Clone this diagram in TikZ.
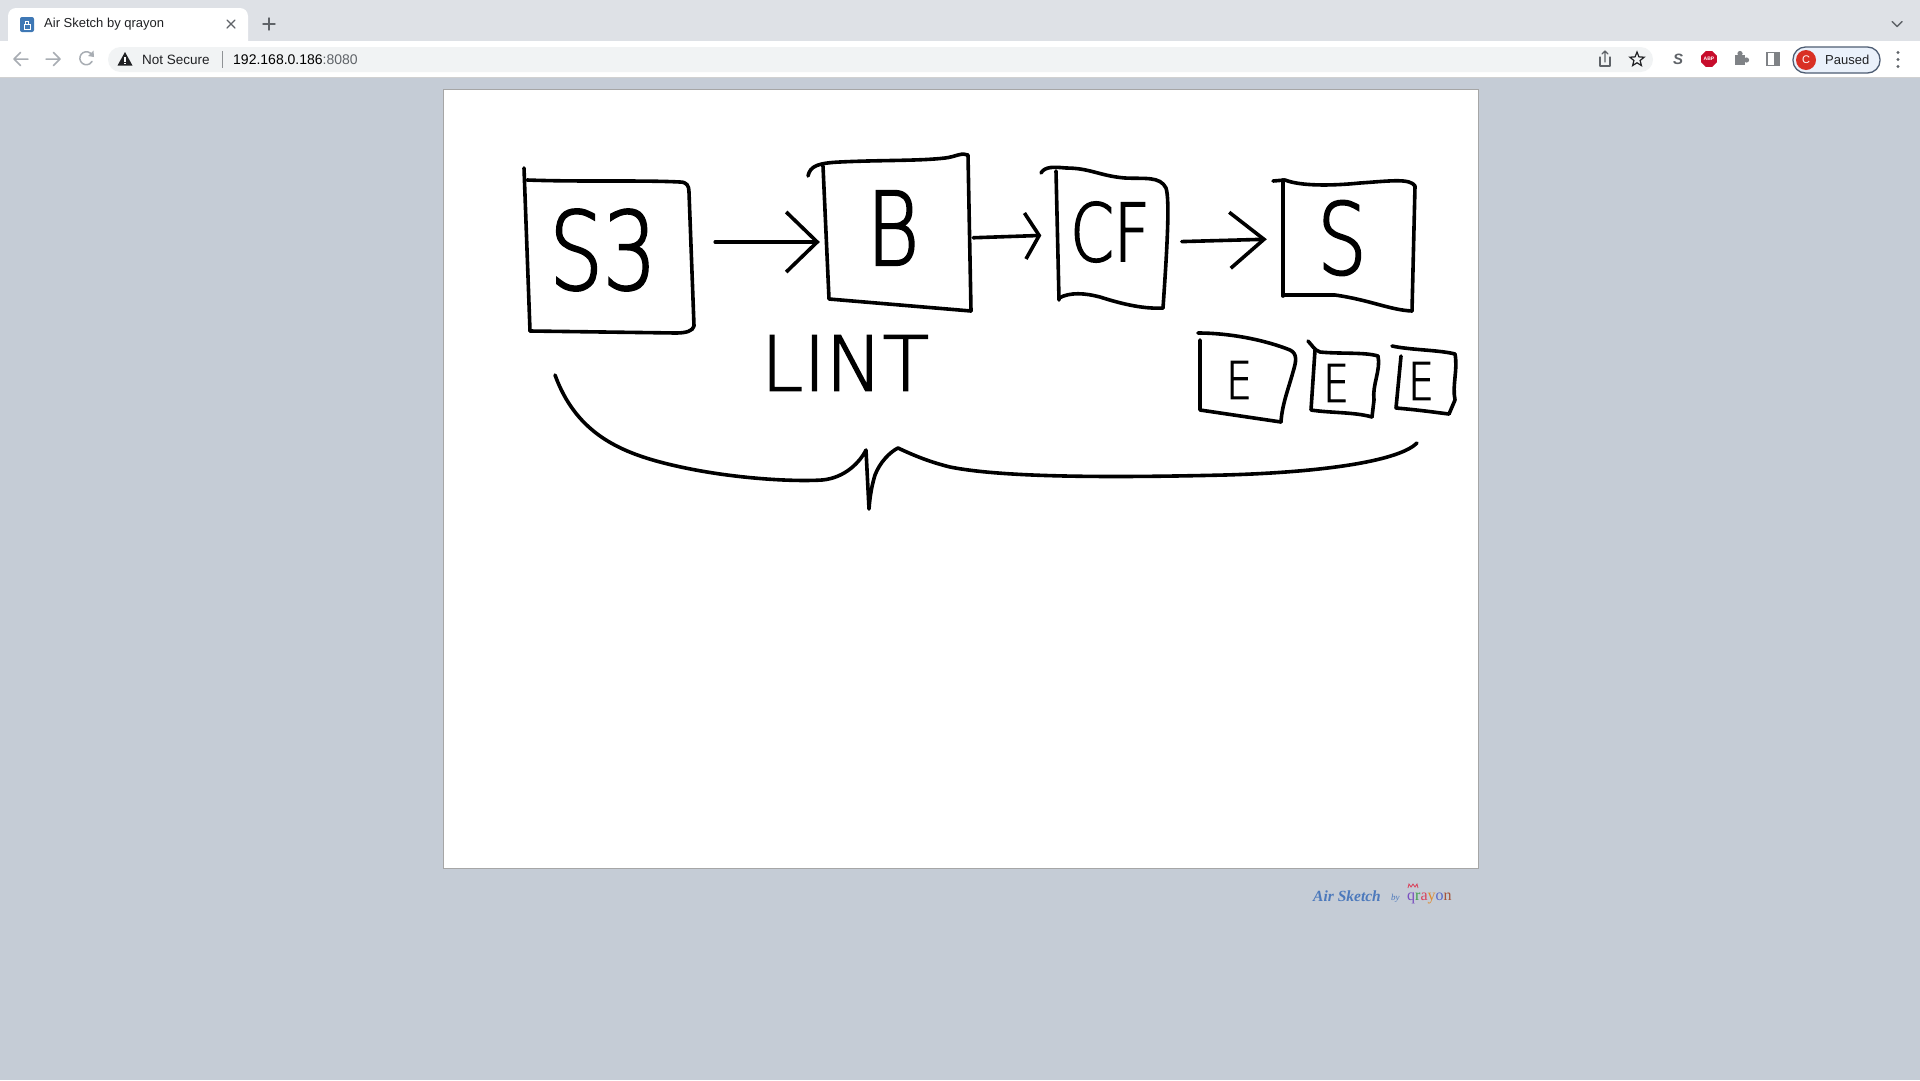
\documentclass[tikz,border=0pt]{standalone}
\usepackage{fontspec}
\setmainfont{Liberation Sans}
\newfontfamily\hand[FakeStretch=0.78,FakeBold=2]{DejaVuSans-ExtraLight.ttf}
\newfontfamily\handw[FakeBold=2]{DejaVuSans-ExtraLight.ttf}
\newfontfamily\serifit{Liberation Serif}
\usetikzlibrary{arrows.meta,shapes.geometric,calc}
\definecolor{pagebg}{HTML}{C5CCD6}
\definecolor{tabbar}{HTML}{DEE1E6}
\definecolor{omni}{HTML}{F1F3F4}
\definecolor{uigray}{HTML}{5F6368}
\definecolor{uilight}{HTML}{A8ADB3}
\definecolor{uitext}{HTML}{202124}
\definecolor{pillfill}{HTML}{EAF1FB}
\definecolor{pillline}{HTML}{4E5D73}
\definecolor{chromered}{HTML}{D93025}
\definecolor{abpred}{HTML}{C70D2C}
\definecolor{favblue}{HTML}{3F78B5}
\definecolor{footblue}{HTML}{4C79BC}
\definecolor{qpurple}{HTML}{7A4FC0}
\definecolor{qgreen}{HTML}{3E9E4A}
\definecolor{qred}{HTML}{D9415A}
\definecolor{qorange}{HTML}{E08A2C}
\definecolor{qblue}{HTML}{5566C8}
\definecolor{qbrown}{HTML}{A5523A}
\begin{document}
\begin{tikzpicture}[x=1pt,y=-1pt,
  sk/.style={draw=black,line width=3.6pt,line cap=round,line join=round},
  lbl/.style={inner sep=0pt,text=black},
  ui/.style={draw=uigray,line width=1.4pt,line cap=round,line join=round},
  uil/.style={draw=uilight,line width=1.5pt,line cap=round,line join=round},
  bigtip/.style={-{Straight Barb[length=31pt,width=60pt]}},
  midtip/.style={-{Straight Barb[length=34pt,width=56pt]}},
  smalltip/.style={-{Straight Barb[length=14pt,width=46pt]}},
]
\useasboundingbox (0,0) rectangle (1920,1080);
% ---------- browser chrome ----------
\fill[pagebg] (0,0) rectangle (1920,1080);
\fill[tabbar] (0,0) rectangle (1920,41);
\fill[white] (0,41) rectangle (1920,78);
\fill[white,rounded corners=8pt] (8,8) rectangle (248,52);
\draw[draw=black!18,line width=0.8pt] (0,77.6) -- (1920,77.6);
% favicon
\fill[favblue,rounded corners=2pt] (20,17) rectangle (34,32);
\draw[white,line width=1pt] (24,24) rectangle (30,29);
\draw[white,line width=1pt] (25.5,24) -- (25.5,21) -- (28.5,21) -- (28.5,24);
\node[anchor=west,font=\fontsize{13}{13}\selectfont,text=uitext,inner sep=0pt] (tabtitle) at (44,24.5) {Air Sketch by qrayon};
\draw[ui] (227,20) -- (235,28) (235,20) -- (227,28);
\draw[ui] (269,18) -- (269,30) (263,24) -- (275,24);
\draw[ui] (1892,21.5) -- (1897,26.5) -- (1902,21.5);
% nav buttons
\draw[uil] (14,59) -- (28,59) (20.5,52.5) -- (14,59) -- (20.5,65.5);
\draw[uil] (46,59) -- (60,59) (53.5,52.5) -- (60,59) -- (53.5,65.5);
\draw[uil] (92,55) arc[start angle=30,end angle=330,radius=6.5pt];
\fill[uilight] (93.5,50.5) -- (94,57) -- (88,56) -- cycle;
% omnibox
\fill[omni,rounded corners=12.5pt] (108,47) rectangle (1653,72);
\fill[uitext] (117.5,65.5) -- (132.5,65.5) -- (125,52) -- cycle;
\fill[white] (124.2,56.5) rectangle (125.8,61.5);
\fill[white] (124.2,62.6) rectangle (125.8,64.2);
\node[anchor=west,font=\fontsize{13.5}{13.5}\selectfont,text=uitext,inner sep=0pt] (notsecure) at (142,59.5) {Not Secure};
\draw[draw=uigray!70,line width=0.9pt] (222,51) -- (222,68);
\node[anchor=west,font=\fontsize{14}{14}\selectfont,text=black,inner sep=0pt] (url) at (233,59.5) {192.168.0.186\textcolor{uigray}{:8080}};
% right icons
\draw[ui,line width=1.2pt] (1600,57) -- (1600,66) -- (1610,66) -- (1610,57);
\draw[ui,line width=1.2pt] (1605,62) -- (1605,51) (1602,54) -- (1605,51) -- (1608,54);
\node[star,star points=5,star point ratio=2.3,draw=uitext,line width=1.2pt,minimum size=15pt,inner sep=0pt] (staricon) at (1637,59.5) {};
\node[font=\bfseries\itshape\fontsize{15}{15}\selectfont,text=uigray,inner sep=0pt] (sicon) at (1678,59) {S};
\node[regular polygon,regular polygon sides=8,fill=abpred,minimum size=17pt,inner sep=0pt,font=\bfseries\fontsize{5}{5}\selectfont,text=white] (abp) at (1709,59) {ABP};
\fill[uigray!80] (1735,55) rectangle (1745,65);
\fill[uigray!80] (1740,53.5) circle[radius=2.6pt] (1746.5,60) circle[radius=2.6pt];
\draw[uigray!80,line width=1.3pt] (1767,52.5) rectangle (1779,65.5);
\fill[uigray!80] (1774,52.5) rectangle (1779,65.5);
\draw[draw=pillline,fill=pillfill,line width=1.3pt,rounded corners=12.5pt] (1793,47) rectangle (1880,73);
\node[circle,fill=chromered,minimum size=20pt,inner sep=0pt,font=\fontsize{11}{11}\selectfont,text=white] (avatar) at (1806,60) {C};
\node[anchor=west,font=\fontsize{13}{13}\selectfont,text=uitext,inner sep=0pt] (paused) at (1825,60) {Paused};
\fill[uigray] (1898,52.5) circle[radius=1.6pt] (1898,59.5) circle[radius=1.6pt] (1898,66.5) circle[radius=1.6pt];
% ---------- canvas ----------
\draw[draw=black!35,fill=white,line width=0.8pt] (443,89) rectangle (1478,868);
% footer
\node[anchor=west,font=\serifit\bfseries\itshape\fontsize{15.5}{15.5}\selectfont,text=footblue,inner sep=0pt] (footair) at (1313,896) {Air Sketch};
\node[anchor=west,font=\serifit\itshape\fontsize{9}{9}\selectfont,text=footblue,inner sep=0pt] (footby) at (1391,898) {by};
\node[anchor=west,font=\serifit\fontsize{16}{16}\selectfont,inner sep=0pt] (footq) at (1407,898) {\textcolor{qpurple}{q}\textcolor{qgreen}{r}\textcolor{qred}{a}\textcolor{qorange}{y}\textcolor{qblue}{o}\textcolor{qbrown}{n}};
\draw[qred,line width=0.8pt] (1408,888) -- (1409,884) -- (1411,887) -- (1413,884) -- (1415,887) -- (1417,884) -- (1418,888);
% ---------- sketch: labelled boxes ----------
\node[lbl,font=\hand\fontsize{108}{108}\selectfont,minimum width=170pt,minimum height=150pt] (s3) at (603,250) {S3};
\node[lbl,font=\hand\fontsize{102}{102}\selectfont,minimum width=146pt,minimum height=150pt] (b) at (893,228) {B};
\node[lbl,font=\hand\fontsize{80}{80}\selectfont,minimum width=113pt,minimum height=135pt] (cf) at (1110,232) {CF};
\node[lbl,font=\hand\fontsize{99}{99}\selectfont,minimum width=134pt,minimum height=131pt] (s) at (1342,238) {S};
\node[lbl,font=\handw\fontsize{76}{76}\selectfont] (lint) at (845,363) {LINT};
\node[lbl,font=\hand\fontsize{52}{52}\selectfont] (e1) at (1239,380) {E};
\node[lbl,font=\hand\fontsize{52}{52}\selectfont] (e2) at (1336,383) {E};
\node[lbl,font=\hand\fontsize{52}{52}\selectfont] (e3) at (1421,381) {E};
% box outlines (hand drawn)
\draw[sk] (524,168) -- (530,331);
\draw[sk] (527,180) .. controls (580,182) and (640,180) .. (680,182) .. controls (687,182) and (689,186) .. (689,192) -- (694,326) .. controls (693,331) and (686,333) .. (676,333) -- (530,331);
\draw[sk] (808,176) .. controls (810,166) and (818,163) .. (840,162) .. controls (880,160) and (920,161) .. (945,158) .. controls (955,157) and (962,152) .. (968,155) -- (971,311);
\draw[sk] (823,166) -- (829,299) -- (971,311);
\draw[sk] (1041,173) .. controls (1045,166) and (1055,167) .. (1066,168) .. controls (1090,168) and (1100,176) .. (1125,178) .. controls (1145,179) and (1160,176) .. (1166,188) .. controls (1170,200) and (1167,250) .. (1163,308);
\draw[sk] (1056,171) -- (1059,300);
\draw[sk] (1059,298) .. controls (1070,292) and (1085,293) .. (1100,297) .. controls (1125,305) and (1145,309) .. (1163,308);
\draw[sk] (1273,181) -- (1285,180) .. controls (1300,186) and (1330,186) .. (1360,183) .. controls (1390,181) and (1410,178) .. (1415,186) -- (1412,311);
\draw[sk] (1283,180) -- (1283,296);
\draw[sk] (1283,295) -- (1335,295) .. controls (1370,300) and (1390,310) .. (1412,311);
\draw[sk] (1198,333) .. controls (1230,333) and (1265,340) .. (1290,350) .. controls (1298,354) and (1296,362) .. (1293,372) .. controls (1288,390) and (1282,405) .. (1281,422);
\draw[sk] (1200,340) -- (1200,410) -- (1281,422);
\draw[sk] (1308,341) .. controls (1312,345) and (1314,350) .. (1320,352) .. controls (1340,354) and (1365,352) .. (1378,356) .. controls (1381,370) and (1372,385) .. (1374,400) -- (1372,417);
\draw[sk] (1315,350) -- (1311,410) .. controls (1330,413) and (1355,412) .. (1372,417);
\draw[sk] (1392,346) .. controls (1410,350) and (1440,350) .. (1455,354) .. controls (1458,370) and (1452,385) .. (1455,400) -- (1449,414);
\draw[sk] (1401,356) -- (1396,408) .. controls (1420,410) and (1440,413) .. (1449,414);
% connectors
\draw[sk,bigtip,shorten <=27pt] ([yshift=8pt]s3.east) -- ([yshift=-14pt]b.west);
\draw[sk,smalltip,shorten <=7pt,shorten >=12pt] ([yshift=-10pt]b.east) -- ([yshift=-3pt]cf.west);
\draw[sk,midtip,shorten <=15pt,shorten >=8pt] ([yshift=-10pt]cf.east) -- ([yshift=-1pt]s.west);
% brace under everything
\draw[sk] (555,375) .. controls (575,430) and (615,450) .. (660,462) .. controls (720,478) and (790,482) .. (822,480) .. controls (845,478) and (860,462) .. (866,450) -- (869,509) .. controls (870,495) and (872,485) .. (875,475) .. controls (880,462) and (890,452) .. (898,448) .. controls (915,456) and (930,462) .. (950,467) .. controls (1000,477) and (1100,478) .. (1225,475) .. controls (1330,472) and (1400,460) .. (1417,443);
\end{tikzpicture}
\end{document}
